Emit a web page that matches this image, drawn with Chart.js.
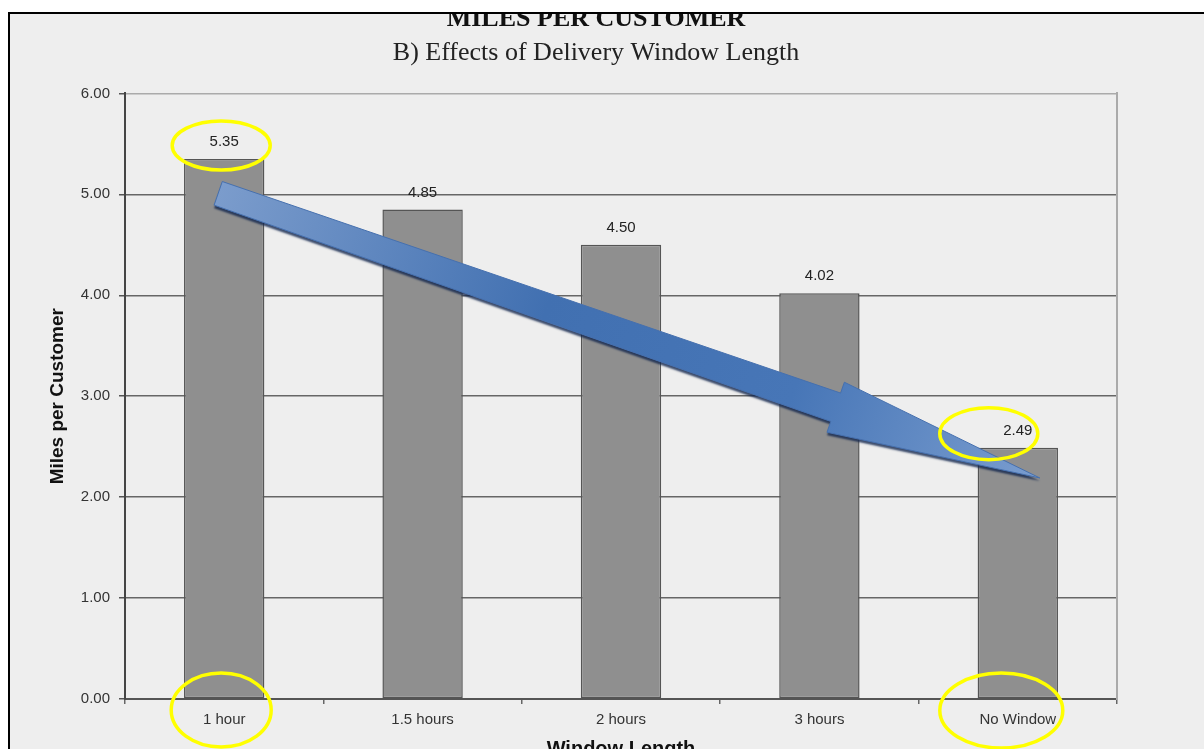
<!DOCTYPE html>
<html>
<head>
<meta charset="utf-8">
<title>Miles per Customer</title>
<script src="https://cdn.jsdelivr.net/npm/chart.js@4.4.1/dist/chart.umd.min.js"></script>
<style>
  html, body { margin: 0; padding: 0; width: 1204px; height: 749px; overflow: hidden; background: #ffffff; }
  #panel { position: absolute; left: 10px; top: 14px; width: 1194px; height: 735px; background: #eeeeee; }
  #wrap { position: absolute; left: 0; top: 0; width: 1204px; height: 770px; z-index: 1; }
  #topmask { position: absolute; left: 0; top: 0; width: 1204px; height: 12px; background: #ffffff; border-bottom: 2px solid #000; z-index: 2; }
  #leftmask { position: absolute; left: 0; top: 12px; width: 8px; height: 737px; background: #ffffff; border-right: 2px solid #000; z-index: 2; }
</style>
</head>
<body>
<div id="panel"></div>
<div id="wrap"><canvas id="chart" width="1204" height="770"></canvas></div>
<div id="topmask"></div>
<div id="leftmask"></div>
<script>
// Delivery window lengths and the resulting miles driven per customer
const categories = ['1 hour', '1.5 hours', '2 hours', '3 hours', 'No Window'];
const milesPerCustomer = [5.35, 4.85, 4.50, 4.02, 2.49];
const yTickValues = [0, 1, 2, 3, 4, 5, 6];

const SANS = '"Liberation Sans", Arial, Helvetica, sans-serif';
const SERIF = '"Liberation Serif", "Times New Roman", serif';

// Draws a wide block arrow from the tail point to the tip point
function drawBlockArrow(ctx, x0, y0, x1, y1) {
  const dx = x1 - x0, dy = y1 - y0, len = Math.hypot(dx, dy);
  const ux = dx / len, uy = dy / len, px = -uy, py = ux;
  const headLen = 216, tailW = 12.5, neckW = 15, barbW = 26.5;
  const pt = (s, t) => [x0 + ux * s + px * t, y0 + uy * s + py * t];
  const pts = [pt(0, -tailW), pt(len - headLen, -neckW), pt(len - headLen, -barbW),
               pt(len, 0), pt(len - headLen, barbW), pt(len - headLen, neckW), pt(0, tailW)];
  const path = () => {
    ctx.beginPath();
    pts.forEach((p, i) => i ? ctx.lineTo(p[0], p[1]) : ctx.moveTo(p[0], p[1]));
    ctx.closePath();
  };
  ctx.save();
  const g = ctx.createLinearGradient(x0, y0, x1, y1);
  g.addColorStop(0, '#7b9ccc');
  g.addColorStop(0.4, '#4170b1');
  g.addColorStop(0.7, '#4776b7');
  g.addColorStop(1, '#7a9dcf');
  ctx.shadowColor = 'rgba(15, 35, 75, 0.8)';
  ctx.shadowBlur = 2;
  ctx.shadowOffsetX = 0;
  ctx.shadowOffsetY = 3;
  path();
  ctx.fillStyle = g;
  ctx.fill();
  ctx.shadowColor = 'transparent';
  ctx.strokeStyle = '#4670ae';
  ctx.lineWidth = 1;
  ctx.stroke();
  ctx.restore();
}

const deliveryMarks = {
  id: 'deliveryMarks',
  afterDatasetsDraw(chart) {
    const ctx = chart.ctx;
    const bars = chart.getDatasetMeta(0).data;
    const y = chart.scales.y;
    // value labels above each bar
    ctx.save();
    ctx.font = '15px ' + SANS;
    ctx.fillStyle = '#222222';
    ctx.textAlign = 'center';
    ctx.textBaseline = 'middle';
    bars.forEach((b, i) => ctx.fillText(milesPerCustomer[i].toFixed(2), b.x, b.y - 17));
    ctx.restore();
    // downward trend arrow from the first bar to the last
    const first = bars[0], last = bars[bars.length - 1];
    drawBlockArrow(ctx, first.x - 6, y.getPixelForValue(5.01), last.x + 22, y.getPixelForValue(2.19));
  },
  afterDraw(chart) {
    const ctx = chart.ctx;
    const bars = chart.getDatasetMeta(0).data;
    const axisY = chart.scales.x.top;
    const first = bars[0], last = bars[bars.length - 1];
    const rings = [
      [first.x - 3, first.y - 13.5, 49, 24.5],
      [last.x - 29, last.y - 14, 49, 26],
      [first.x - 3, axisY + 11, 50, 37],
      [last.x - 16.5, axisY + 11.5, 61.5, 37.5]
    ];
    ctx.save();
    ctx.strokeStyle = '#ffff00';
    ctx.lineWidth = 3.5;
    rings.forEach(([cx, cy, rx, ry]) => {
      ctx.beginPath();
      ctx.ellipse(cx, cy, rx, ry, 0, 0, Math.PI * 2);
      ctx.stroke();
    });
    ctx.restore();
  }
};

new Chart(document.getElementById('chart'), {
  type: 'bar',
  data: {
    labels: categories,
    datasets: [{
      data: milesPerCustomer,
      backgroundColor: '#8f8f8f',
      borderColor: '#555555',
      borderWidth: 1.5,
      borderSkipped: false,
      categoryPercentage: 1,
      barPercentage: 0.405
    }]
  },
  options: {
    responsive: false,
    animation: false,
    devicePixelRatio: 1,
    layout: { padding: { left: 0, right: 12, top: 0, bottom: 0 } },
    plugins: {
      legend: { display: false },
      tooltip: { enabled: false },
      title: {
        display: true,
        text: 'MILES PER CUSTOMER',
        color: '#111111',
        font: { family: SERIF, size: 26, weight: 'bold' },
        padding: { top: 4, bottom: 2 }
      },
      subtitle: {
        display: true,
        text: 'B) Effects of Delivery Window Length',
        color: '#222222',
        font: { family: SERIF, size: 26, weight: 'normal' },
        padding: { top: 0, bottom: 25 }
      }
    },
    scales: {
      x: {
        offset: true,
        afterFit(s) { s.height = 71; },
        grid: { display: true, drawOnChartArea: false, drawTicks: true, tickLength: 5, color: '#666666', lineWidth: 1.5 },
        border: { display: true, color: '#555555', width: 2 },
        ticks: { color: '#333333', font: { family: SANS, size: 15 }, padding: 7, maxRotation: 0 },
        title: {
          display: true,
          text: 'Window Length',
          color: '#111111',
          font: { family: SANS, size: 20, weight: 'bold' },
          padding: { top: 0, bottom: 9 }
        }
      },
      y: {
        min: 0,
        max: 6,
        afterFit(s) { s.width = 125; },
        afterBuildTicks(s) { s.ticks = yTickValues.map(v => ({ value: v })); },
        grid: {
          color: ctx => ctx.tick && ctx.tick.value === 6 ? '#aaaaaa' : '#666666',
          lineWidth: 1.5,
          drawTicks: true,
          tickLength: 6,
          tickColor: '#555555'
        },
        border: { display: true, color: '#444444', width: 2 },
        ticks: { color: '#333333', font: { family: SANS, size: 15 }, padding: 9, callback: v => Number(v).toFixed(2) },
        title: {
          display: true,
          text: 'Miles per Customer',
          color: '#111111',
          font: { family: SANS, size: 19, weight: 'bold' },
          padding: { top: 46, bottom: 0 }
        }
      },
      y2: {
        position: 'right',
        min: 0,
        max: 6,
        afterFit(s) { s.width = 75; },
        grid: { display: false },
        ticks: { display: false },
        border: { display: true, color: '#aaaaaa', width: 2 }
      }
    }
  },
  plugins: [deliveryMarks]
});
</script>
</body>
</html>
